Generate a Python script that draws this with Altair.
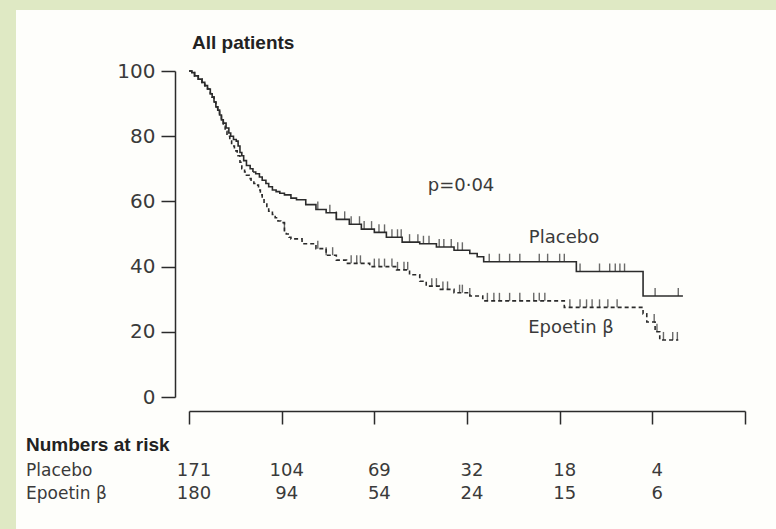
import altair as alt
import pandas as pd
import numpy as np

# ---- data; time in tick units 0..6 ----
placebo_t = [0, 0.03, 0.06, 0.10, 0.14, 0.17, 0.20, 0.23, 0.25, 0.27, 0.29, 0.31, 0.33, 0.35,
             0.37, 0.40, 0.43, 0.45, 0.48, 0.51, 0.53, 0.55, 0.57, 0.59, 0.62, 0.66, 0.69,
             0.72, 0.76, 0.79, 0.83, 0.86, 0.90, 0.94, 0.98, 1.03, 1.10, 1.16, 1.26, 1.37,
             1.48, 1.59, 1.73, 1.86, 2.0, 2.13, 2.30, 2.49, 2.67, 2.86, 3.03, 3.11, 3.18,
             4.18, 4.90, 5.33]
placebo_s = [100, 99.5, 98.5, 97.5, 96.5, 95.5, 94.5, 93, 92, 90.5, 89, 88, 86.5, 85,
             84, 82.5, 81, 80, 79, 78.5, 77, 75, 74, 72.5, 71, 70, 69,
             68.5, 67.5, 66.5, 65.5, 64.5, 63.5, 63, 62.5, 62, 61, 60.5, 59, 57.5,
             56.5, 54.5, 53, 51.5, 50.5, 49, 47.5, 47, 46, 45, 44, 43, 41.5,
             38.5, 31, 31]

epo_t = [0, 0.03, 0.06, 0.10, 0.14, 0.17, 0.20, 0.23, 0.25, 0.27, 0.29, 0.31, 0.33, 0.35,
         0.37, 0.39, 0.41, 0.44, 0.46, 0.49, 0.52, 0.55, 0.57, 0.60, 0.62, 0.65, 0.67, 0.70,
         0.72, 0.75, 0.77, 0.79, 0.81, 0.84, 0.86, 0.90, 0.93, 0.96, 0.99, 1.03, 1.05, 1.08,
         1.10, 1.22, 1.37, 1.48, 1.59, 1.70, 1.95, 2.24, 2.38, 2.49, 2.56, 2.70, 2.86, 3.03,
         3.17, 4.05, 4.90, 4.94, 5.03, 5.08, 5.28]
epo_s = [100, 99.5, 98.5, 97.5, 96.5, 95.5, 94.5, 93, 92, 90.5, 89, 88, 86.5, 85,
         83, 81.5, 80, 78.5, 77, 75.5, 74, 72, 70, 69, 68, 67, 66.5, 65.5,
         65, 63.5, 62, 60.5, 59.5, 58, 57, 56, 55, 54, 53.5, 51, 50, 49,
         48.5, 47, 45.5, 43.5, 42, 41, 40, 39, 37.5, 35.5, 34, 33, 32, 31,
         29.5, 27.5, 25.5, 23, 20, 17.5, 17.5]

placebo_cens = [1.39, 1.52, 1.59, 1.68, 1.75, 1.84, 1.89, 1.97, 2.05, 2.11, 2.19, 2.25, 2.29,
                2.38, 2.47, 2.53, 2.59, 2.70, 2.75, 2.83, 2.90, 2.95, 3.24, 3.35, 3.46, 3.57,
                3.78, 3.87, 4.00, 4.05, 4.22, 4.43, 4.54, 4.60, 4.65, 4.70, 5.03, 5.28]
epo_cens = [1.03, 1.39, 1.48, 1.55, 1.75, 1.81, 1.85, 2.00, 2.05, 2.11, 2.19, 2.25, 2.32,
            2.36, 2.62, 2.67, 2.74, 2.79, 2.92, 2.95, 3.03, 3.22, 3.29, 3.35, 3.46, 3.57,
            3.72, 3.78, 3.84, 4.11, 4.22, 4.29, 4.35, 4.43, 4.52, 4.62, 5.02, 5.05, 5.12,
            5.22, 5.27]

risk_times = [0, 1, 2, 3, 4, 5]
risk_placebo = [171, 104, 69, 32, 18, 4]
risk_epo = [180, 94, 54, 24, 15, 6]

x_ticks = [0, 1, 2, 3, 4, 5, 6]
y_ticks = [0, 20, 40, 60, 80, 100]

FONT = "DejaVu Sans"
BFONT = "Liberation Sans"
INK = "#2b2b2b"
TXT = "#3a3a3a"

W, H = 556, 326       # plot area
PL, PT = 189, 71      # padding left / top
TOTW, TOTH = 776, 529


def step_value(ts, ss, t):
    idx = int(np.searchsorted(ts, t, side="right")) - 1
    return ss[max(idx, 0)]


curves = pd.concat([
    pd.DataFrame({"t": placebo_t, "s": placebo_s, "group": "Placebo"}),
    pd.DataFrame({"t": epo_t, "s": epo_s, "group": "Epoetin β"}),
])
cens = pd.concat([
    pd.DataFrame({"t": placebo_cens, "s": [step_value(placebo_t, placebo_s, c) for c in placebo_cens],
                  "group": "Placebo"}),
    pd.DataFrame({"t": epo_cens, "s": [step_value(epo_t, epo_s, c) for c in epo_cens],
                  "group": "Epoetin β"}),
])

xs = alt.Scale(domain=[0, 6], nice=False, zero=False)
ys = alt.Scale(domain=[0, 100], nice=False)

# background panel
frame = alt.Chart(pd.DataFrame({"a": [0]})).mark_rect(color="#fefefb").encode(
    x=alt.value(16 - PL), x2=alt.value(TOTW - PL + 5),
    y=alt.value(10 - PT), y2=alt.value(TOTH - PT + 5),
)

lines = alt.Chart(curves).mark_line(interpolate="step-after", color=INK, strokeWidth=1.6).encode(
    x=alt.X("t:Q", scale=xs, axis=alt.Axis(
        values=x_ticks, labels=False, title=None, offset=14, tickSize=13, zindex=2,
        domainColor=INK, tickColor=INK, domainWidth=1.5, tickWidth=1.5, grid=False)),
    y=alt.Y("s:Q", scale=ys, axis=alt.Axis(
        values=y_ticks, title=None, offset=14, tickSize=14, labelFontSize=20, zindex=2,
        labelFont=FONT, labelColor=TXT, labelPadding=6,
        domainColor=INK, tickColor=INK, domainWidth=1.5, tickWidth=1.5, grid=False)),
    strokeDash=alt.StrokeDash("group:N", scale=alt.Scale(
        domain=["Placebo", "Epoetin β"], range=[[1, 0], [4, 3]]), legend=None),
    detail="group:N",
)

ticks = alt.Chart(cens).mark_tick(orient="vertical", color=INK, size=8, thickness=1.4, yOffset=-4).encode(
    x=alt.X("t:Q", scale=xs), y=alt.Y("s:Q", scale=ys),
)

title = alt.Chart(pd.DataFrame({"txt": ["All patients"]})).mark_text(
    align="left", baseline="middle", font=BFONT, fontSize=19, fontWeight="bold", color="#222"
).encode(text="txt:N", x=alt.value(192 - PL), y=alt.value(43 - PT))

ann = alt.Chart(pd.DataFrame({
    "txt": ["p=0·04", "Placebo", "Epoetin β"],
    "px": [461 - PL, 564 - PL, 571 - PL],
    "py": [186 - PT, 238 - PT, 328 - PT],
})).mark_text(align="center", baseline="middle", font=FONT, fontSize=18, color=TXT).encode(
    text="txt:N", x=alt.X("px:Q", scale=None), y=alt.Y("py:Q", scale=None))

risk_head = alt.Chart(pd.DataFrame({"txt": ["Numbers at risk"]})).mark_text(
    align="left", baseline="middle", font=BFONT, fontSize=19, fontWeight="bold", color="#222"
).encode(text="txt:N", x=alt.value(26 - PL), y=alt.value(445 - PT))

risk_rows = alt.Chart(pd.DataFrame({
    "txt": ["Placebo", "Epoetin β"],
    "py": [471 - PT, 494 - PT],
})).mark_text(align="left", baseline="middle", font=FONT, fontSize=17, color=TXT).encode(
    text="txt:N", x=alt.value(26 - PL), y=alt.Y("py:Q", scale=None))

risk_df = pd.concat([
    pd.DataFrame({"t": risk_times, "n": risk_placebo, "py": 471 - PT}),
    pd.DataFrame({"t": risk_times, "n": risk_epo, "py": 494 - PT}),
])
risk = alt.Chart(risk_df).mark_text(align="center", baseline="middle", font=FONT, fontSize=18,
                                    color=TXT, dx=5).encode(
    text="n:Q", x=alt.X("t:Q", scale=xs), y=alt.Y("py:Q", scale=None))

chart = alt.layer(frame, lines, ticks, title, ann, risk_head, risk_rows, risk).properties(
    width=W, height=H,
    padding={"left": PL, "top": PT, "right": TOTW - PL - W, "bottom": TOTH - PT - H},
    autosize=alt.AutoSizeParams(type="none"),
    background="#dfe9c4",
).configure_view(stroke=None)

chart.save("out.html", embed_options={"renderer": "svg", "actions": False})
